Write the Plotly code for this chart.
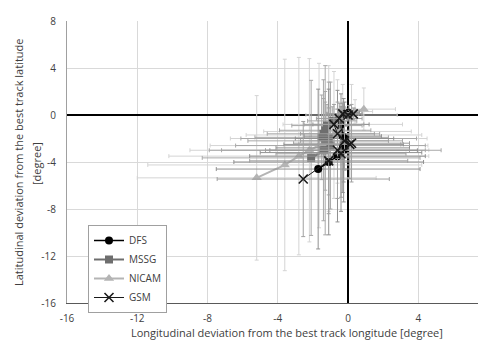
import plotly.graph_objects as go

# forecast positions (deviation from best track), degrees
dfs_x = [0.0, 0.05, -0.2, -0.4, -0.3, -0.2, -0.25, -0.3, -0.25, -0.4, -0.6, -1.1, -1.7]
dfs_y = [0.0, 0.2, 0.1, -0.8, -1.8, -2.0, -2.5, -2.8, -3.0, -3.2, -3.5, -4.0, -4.6]
dfs_ex = [0.2, 0.6, 1.0, 1.6, 2.2, 2.8, 3.4, 3.8, 4.2, 4.6, 5.0, 5.4, 5.8]
dfs_ey = [0.2, 0.6, 1.0, 1.5, 2.0, 2.6, 3.2, 3.8, 4.4, 5.0, 5.6, 6.2, 6.8]

mssg_x = [0.0, -0.5, -0.9, -1.2, -1.3, -1.4, -1.5, -1.3, -1.1, -1.0, -1.4, -2.1, -1.3]
mssg_y = [0.0, -0.3, -0.5, -0.9, -1.3, -1.6, -1.9, -2.2, -2.0, -2.6, -3.0, -3.65, -3.0]
mssg_ex = [0.2, 0.8, 1.4, 2.0, 2.6, 3.2, 3.8, 4.4, 5.0, 5.4, 5.8, 6.2, 6.6]
mssg_ey = [0.2, 0.7, 1.2, 1.8, 2.4, 3.0, 3.6, 4.2, 4.8, 5.4, 6.0, 6.6, 7.2]

nicam_x = [0.0, 0.4, 0.9, 0.2, -0.3, -0.6, -0.8, -1.1, -1.65, -2.2, -2.8, -3.6, -5.2]
nicam_y = [0.0, 0.3, 0.5, 0.0, -0.8, -1.4, -1.7, -2.0, -2.6, -3.0, -3.5, -4.25, -5.35]
nicam_ex = [0.3, 1.0, 1.8, 2.6, 3.4, 4.2, 5.0, 5.6, 6.2, 6.8, 7.4, 7.8, 6.8]
nicam_ey = [0.3, 1.0, 1.8, 2.6, 3.4, 4.4, 5.4, 6.2, 7.0, 7.8, 8.4, 9.0, 7.0]

gsm_x = [0.0, 0.3, -0.3, -0.5, -0.8, -0.6, -0.2, 0.1, 0.2, -0.4, -0.6, -1.1, -2.55]
gsm_y = [0.0, 0.1, 0.1, -0.3, -0.8, -1.6, -2.2, -2.5, -2.4, -3.3, -3.0, -3.9, -5.45]
gsm_ex = [0.2, 0.5, 0.9, 1.3, 1.7, 2.1, 2.5, 2.9, 3.3, 3.7, 4.1, 4.5, 4.9]
gsm_ey = [0.2, 0.5, 0.9, 1.3, 1.7, 2.1, 2.5, 2.9, 3.3, 3.7, 4.1, 4.5, 4.9]

x_ticks = [-16, -12, -8, -4, 0, 4]
y_ticks = [-16, -12, -8, -4, 0, 4, 8]

FONT = "Open Sans"
TXT = "#404040"

fig = go.Figure()

def add(name, rank, x, y, ex, ey, color, symbol, size, ebcolor, lw):
    fig.add_trace(go.Scatter(
        x=x, y=y, name=name, mode="lines+markers", legendrank=rank,
        line=dict(color=color, width=lw),
        marker=dict(color=color, symbol=symbol, size=size,
                    line=dict(color=color, width=1.6 if symbol == "x-thin" else 0)),
        error_x=dict(type="data", array=ex, color=ebcolor, thickness=1, width=2),
        error_y=dict(type="data", array=ey, color=ebcolor, thickness=1, width=2),
    ))

add("NICAM", 3, nicam_x, nicam_y, nicam_ex, nicam_ey, "#b4b4b4", "triangle-up", 9, "#d4d4d4", 2)
add("MSSG", 2, mssg_x, mssg_y, mssg_ex, mssg_ey, "#6e6e6e", "square", 8, "#a8a8a8", 2)
add("DFS", 1, dfs_x, dfs_y, dfs_ex, dfs_ey, "#000000", "circle", 8, "#909090", 1.5)
add("GSM", 4, gsm_x, gsm_y, gsm_ex, gsm_ey, "#1a1a1a", "x-thin", 9, "#a0a0a0", 1)

L, T, W, H = 67, 21, 411, 282

fig.update_layout(
    width=478, height=342,
    margin=dict(l=L, r=478 - L - W, t=T, b=342 - T - H, autoexpand=False),
    paper_bgcolor="white", plot_bgcolor="white",
    font=dict(family=FONT, size=10, color=TXT),
    showlegend=True,
    legend=dict(
        x=(88 - L) / W, y=(T + H - 225) / H, xanchor="left", yanchor="top",
        bgcolor="white", bordercolor="#a0a0a0", borderwidth=1,
        font=dict(family=FONT, size=10, color=TXT),
        itemwidth=30, tracegroupgap=0,
    ),
    xaxis=dict(
        range=[-16, 7.4], tickvals=x_ticks, ticktext=[str(v) for v in x_ticks],
        showgrid=True, gridcolor="#d9d9d9", gridwidth=1,
        zeroline=True, zerolinecolor="#000000", zerolinewidth=1.5,
        showline=True, linecolor="#595959", linewidth=1,
        ticks="outside", ticklen=6, tickcolor="white",
        tickfont=dict(size=10, color=TXT), automargin=False,
    ),
    yaxis=dict(
        range=[-16, 8], tickvals=y_ticks, ticktext=[str(v) for v in y_ticks],
        showgrid=True, gridcolor="#d9d9d9", gridwidth=1,
        zeroline=True, zerolinecolor="#000000", zerolinewidth=1.5,
        showline=True, linecolor="#a0a0a0", linewidth=1,
        ticks="outside", ticklen=8, tickcolor="white",
        tickfont=dict(size=10, color=TXT), automargin=False,
    ),
    annotations=[
        dict(text="Longitudinal deviation from the best track longitude [degree]",
             xref="paper", yref="paper", x=(287 - L) / W, y=-(332 - T - H) / H,
             xanchor="center", yanchor="middle", showarrow=False,
             font=dict(size=11, color=TXT)),
        dict(text="Latitudinal deviation from the best track latitude",
             xref="paper", yref="paper", x=-(L - 18) / W, y=(T + H - 162) / H,
             xanchor="center", yanchor="middle", showarrow=False, textangle=-90,
             font=dict(size=11, color=TXT)),
        dict(text="[degree]",
             xref="paper", yref="paper", x=-(L - 36) / W, y=(T + H - 164) / H,
             xanchor="center", yanchor="middle", showarrow=False, textangle=-90,
             font=dict(size=11, color=TXT)),
    ],
)

fig.write_html("out.html", config={"displayModeBar": False},
               post_script="document.body.style.margin='0';document.body.style.overflow='hidden';")
